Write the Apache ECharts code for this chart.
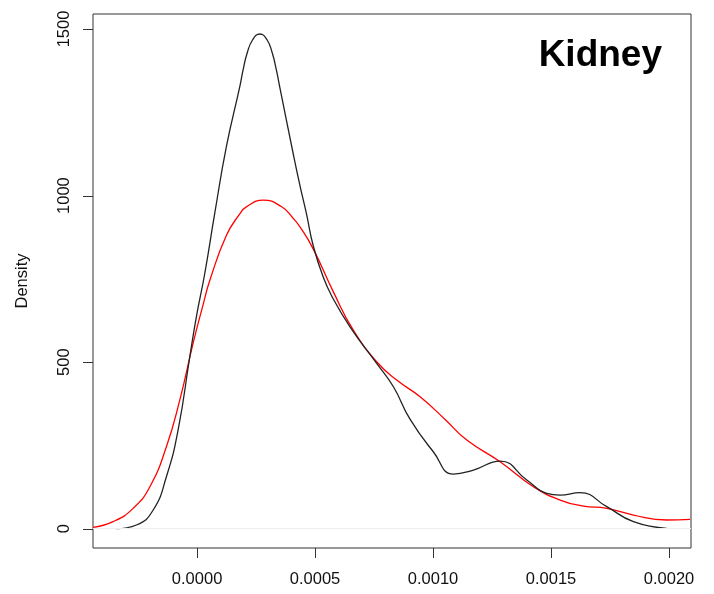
<!DOCTYPE html>
<html>
<head>
<meta charset="utf-8">
<script src="https://cdn.jsdelivr.net/npm/echarts@6/dist/echarts.min.js"></script>
<style>
html,body{margin:0;padding:0;background:#fff;}
#chart{width:714px;height:594px;}
</style>
</head>
<body>
<div id="chart"></div>
<script>
// Data
const blackX = [-0.000342,-0.000257,-0.000186,-0.000130,-0.0000805,-0.0000309,-0.000003,0.0000326,0.000075,0.000124,0.000181,0.000195,0.000212,0.000235,0.000266,0.000297,0.000319,0.000336,0.000350,0.000407,0.000436,0.000463,0.000492,0.000534,0.000576,0.000648,0.000761,0.000832,0.000903,0.001001,0.001086,0.001171,0.001284,0.001397,0.001482,0.001538,0.001623,0.001736,0.001849,0.001990];
const blackY = [0,11,56,156,296,516,636,766,947,1146,1327,1377,1427,1467,1485,1467,1427,1377,1327,1127,1030,947,850,756,691,606,496,426,328,231,164,176,203,146,106,101,108,66,21,1];
const redX = [-0.000441,-0.000356,-0.000271,-0.000200,-0.000130,-0.0000733,-0.000017,0.0000254,0.0000538,0.000124,0.000181,0.000209,0.000280,0.000357,0.000407,0.000436,0.000492,0.000578,0.000662,0.000761,0.000846,0.000945,0.001051,0.001143,0.001284,0.001425,0.001538,0.001637,0.001736,0.001849,0.001990,0.002089];
const redY = [4,21,61,126,246,386,556,672,745,880,945,966,986,967,932,906,840,710,596,501,446,396,328,266,201,126,86,68,61,41,26,28];
const xTicks = [0,0.0005,0.001,0.0015,0.002];
const yTicks = [0,500,1000,1500];
const titleText = 'Kidney';
const yName = 'Density';

const X_MIN = -0.000441, X_MAX = 0.002093, Y_MIN = -58, Y_MAX = 1545;
const TICK = 10;
const FONT = 'Liberation Sans, Arial, Helvetica, sans-serif';
const chart = echarts.init(document.getElementById('chart'), null, {renderer:'canvas'});
const zip = (xs, ys) => xs.map((x,i)=>[x, ys[i]]);

chart.setOption({
  animation:false,
  backgroundColor:'#fff',
  grid:{left:93,right:23,top:14,bottom:46,show:true,borderColor:'#333',borderWidth:1,backgroundColor:'transparent'},
  xAxis:{
    type:'value', min:X_MIN, max:X_MAX,
    axisLine:{show:false,onZero:false},
    splitLine:{show:false},
    axisTick:{show:false},
    axisLabel:{show:true,customValues:xTicks,margin:23,fontSize:16.5,color:'#111',fontFamily:FONT,
      formatter:v=>v.toFixed(4)}
  },
  yAxis:{
    type:'value', min:Y_MIN, max:Y_MAX,
    name:yName, nameLocation:'middle', nameGap:62, nameRotate:90,
    nameTextStyle:{fontSize:16.5,color:'#111',fontFamily:FONT},
    axisLine:{show:false,onZero:false},
    splitLine:{show:false},
    axisTick:{show:false},
    axisLabel:{show:true,customValues:yTicks,rotate:90,margin:20,fontSize:16.5,color:'#111',fontFamily:FONT,
      formatter:v=>String(v)}
  },
  series:[
    {type:'line',data:zip(blackX,blackY),smooth:0.5,symbol:'none',
      lineStyle:{color:'#222',width:1.3},
      markLine:{silent:true,symbol:'none',label:{show:false},
        lineStyle:{color:'#eee',width:1,type:'solid'},data:[{yAxis:0}]},
      z:3},
    {type:'line',data:zip(redX,redY),smooth:0.5,symbol:'none',
      lineStyle:{color:'#ff0000',width:1.3},z:2}
  ]
});

// Tick marks as thin filled rectangles, positioned through the chart's scales
const g = [];
let dbg = '';
try {
  const pt = (x, y) => chart.convertToPixel({xAxisIndex:0, yAxisIndex:0}, [x, y]);
  const corner = pt(X_MIN, Y_MIN);
  const left = corner[0], bottom = corner[1];
  xTicks.forEach(v => {
    const x = Math.round(pt(v, Y_MIN)[0]);
    g.push({type:'rect', z:100, silent:true, shape:{x:x, y:Math.round(bottom), width:1, height:TICK}, style:{fill:'#333'}});
  });
  yTicks.forEach(v => {
    const y = Math.round(pt(X_MIN, v)[1]);
    g.push({type:'rect', z:100, silent:true, shape:{x:Math.round(left)-TICK, y:y, width:TICK, height:1}, style:{fill:'#333'}});
  });
} catch (e) { dbg = String(e); }
g.push({type:'text', right:714-662, top:37,
  style:{text:titleText,font:'bold 37px '+FONT,fill:'#000'}});
if (dbg) g.push({type:'text', left:100, top:300, style:{text:dbg, font:'12px '+FONT, fill:'#00f'}});
chart.setOption({graphic:g});
</script>
</body>
</html>
